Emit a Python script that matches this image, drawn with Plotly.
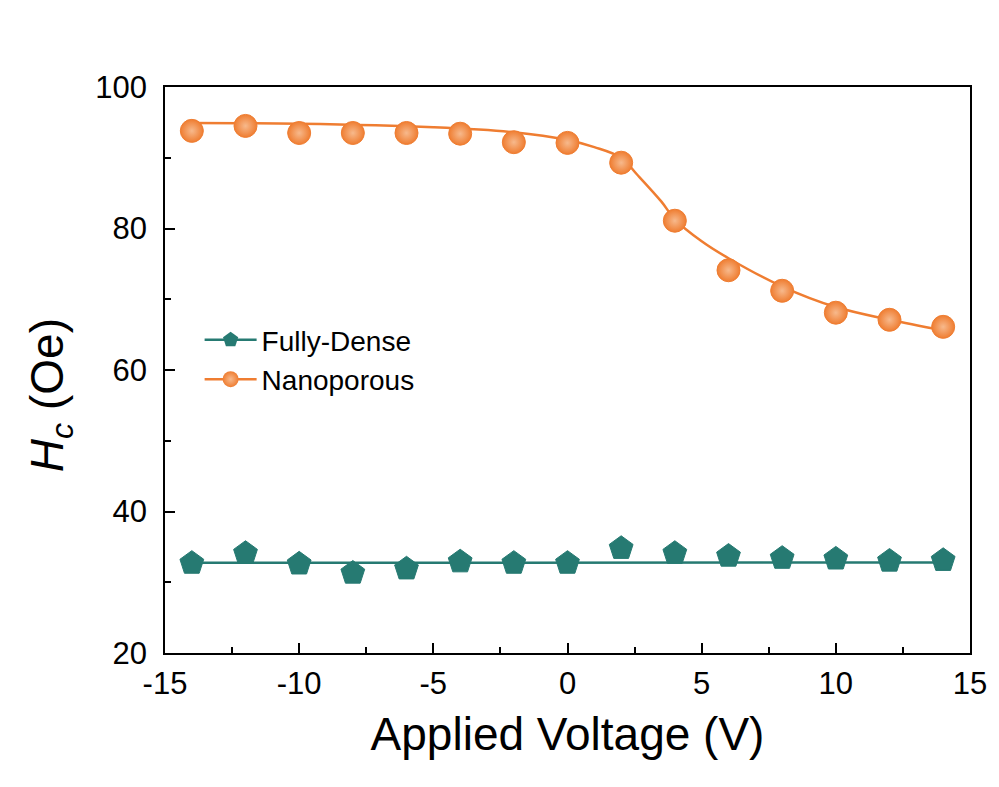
import plotly.graph_objects as go

voltage = [-14, -12, -10, -8, -6, -4, -2, 0, 2, 4, 6, 8, 10, 12, 14]
hc_dense = [32.7, 34.1, 32.6, 31.3, 31.9, 32.9, 32.7, 32.7, 34.8, 34.1, 33.7, 33.4, 33.3, 33.0, 33.1]
hc_nano = [93.8, 94.5, 93.5, 93.5, 93.5, 93.4, 92.2, 92.1, 89.3, 81.1, 74.1, 71.2, 68.1, 67.1, 66.1]

fit_dense_x = [-14, 14]
fit_dense_y = [32.75, 32.8]
fit_nano_x = [-14, -10, -5, -2, 0, 1, 2, 2.6, 3.5, 4, 5, 6, 8, 10, 12, 14]
fit_nano_y = [94.9, 94.8, 94.3, 93.6, 92.5, 91.5, 90.0, 87.6, 83.8, 81.3, 78.2, 75.8, 71.8, 68.9, 67.1, 65.6]

x_tickvals = [-15, -10, -5, 0, 5, 10, 15]
x_ticktext = ["-15", "-10", "-5", "0", "5", "10", "15"]
y_tickvals = [20, 40, 60, 80, 100]
y_ticktext = ["20", "40", "60", "80", "100"]

teal = "#267a72"
orange = "#ef7d31"
font = "Liberation Sans, Arial, sans-serif"

fig = go.Figure()
fig.add_trace(go.Scatter(x=fit_dense_x, y=fit_dense_y, mode="lines",
                         line=dict(color=teal, width=2.5), showlegend=False, hoverinfo="skip"))
fig.add_trace(go.Scatter(x=fit_nano_x, y=fit_nano_y, mode="lines",
                         line=dict(color=orange, width=2.5, shape="spline", smoothing=1.0),
                         showlegend=False, hoverinfo="skip"))
fig.add_trace(go.Scatter(x=voltage, y=hc_dense, mode="markers", name="Fully-Dense", showlegend=False,
                         marker=dict(symbol="pentagon", size=25, color=teal,
                                     line=dict(color=teal, width=1))))
fig.add_trace(go.Scatter(x=voltage, y=hc_nano, mode="markers", name="Nanoporous", showlegend=False,
                         marker=dict(symbol="circle", size=23, color=orange,
                                     gradient=dict(type="radial", color="#f7b98c"),
                                     line=dict(color=orange, width=1))))
# legend entries (line + marker)
fig.add_trace(go.Scatter(x=[None], y=[None], mode="lines+markers", name="Fully-Dense",
                         line=dict(color=teal, width=2.5),
                         marker=dict(symbol="pentagon", size=22, color=teal)))
fig.add_trace(go.Scatter(x=[None], y=[None], mode="lines+markers", name="Nanoporous",
                         line=dict(color=orange, width=2.5),
                         marker=dict(symbol="circle", size=21, color=orange,
                                     gradient=dict(type="radial", color="#f7b98c"))))

axis_common = dict(showline=True, linecolor="black", linewidth=1.8, mirror=True,
                   ticks="inside", ticklen=10, tickwidth=1.8, tickcolor="black",
                   showgrid=False, zeroline=False,
                   tickfont=dict(family=font, size=31, color="black"))

fig.update_xaxes(range=[-15, 15], tickvals=x_tickvals, ticktext=x_ticktext,
                 minor=dict(ticks="inside", ticklen=6, tickwidth=1.5, tickcolor="black", dtick=2.5, tick0=-15),
                 title=dict(text="Applied Voltage (V)", font=dict(family=font, size=46, color="black"),
                            standoff=18),
                 ticklabelstandoff=2,
                 **axis_common)
fig.update_yaxes(range=[20, 100], tickvals=y_tickvals, ticktext=y_ticktext,
                 minor=dict(ticks="inside", ticklen=6, tickwidth=1.5, tickcolor="black", dtick=10, tick0=20),
                 ticklabelstandoff=10,
                 **axis_common)

fig.add_annotation(text="<i>H<sub>c</sub></i> (Oe)", xref="paper", yref="paper",
                   x=-0.142, y=0.455, textangle=-90, showarrow=False,
                   xanchor="center", yanchor="middle",
                   font=dict(family=font, size=46, color="black"))

fig.update_layout(
    width=991, height=779,
    margin=dict(l=157, r=20, t=79, b=134),
    paper_bgcolor="white", plot_bgcolor="white",
    legend=dict(x=0.043, y=0.597, xanchor="left", yanchor="top",
                font=dict(family=font, size=28, color="black"),
                bgcolor="rgba(0,0,0,0)", itemwidth=52, tracegroupgap=0),
)

fig.write_html("out.html")
